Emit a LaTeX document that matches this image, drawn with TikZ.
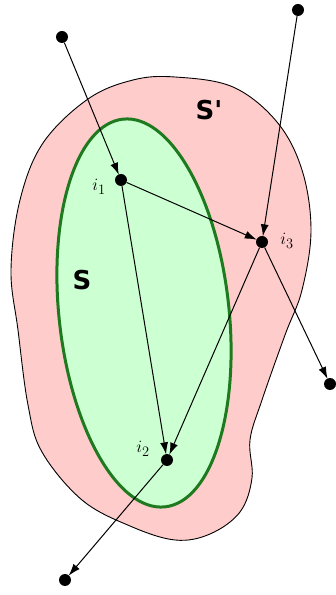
\documentclass[tikz,border=0pt]{standalone}
\usepackage{fontspec}
\newfontfamily\labfont{DejaVu Sans}
\usetikzlibrary{arrows.meta}
\definecolor{pinkfill}{HTML}{FFCCCC}
\definecolor{greenfill}{HTML}{CCFFD2}
\definecolor{greenline}{HTML}{1E7A1E}
\begin{document}
\begin{tikzpicture}[x=1pt,y=1pt,
  dot/.style={circle,fill=black,inner sep=0pt,minimum size=12pt},
  arr/.style={line width=1pt,-{Latex[length=12pt,width=8pt]},shorten >=-0.5pt},
  setlab/.style={font=\labfont\bfseries\fontsize{26}{30}\selectfont},
  ilab/.style={font=\fontsize{19}{22}\selectfont}]
\useasboundingbox (0,0) rectangle (336,595);
% outer set S'
\draw[fill=pinkfill,line width=0.9pt] plot[smooth cycle,tension=0.6] coordinates {
 (175,518) (233,508) (277,473) (302,425) (311,365) (302,305) (285,260) (262,195)
 (250,155) (252,117) (240,83) (210,61) (175,55) (130,69) (82,95) (42,143) (28,190)
 (18,265) (11,325) (20,395) (43,452) (88,496) (133,515)};
% inner set S
\draw[fill=greenfill,draw=greenline,line width=3pt,rotate around={6.2:(144,282)}]
  (144,282) ellipse [x radius=85,y radius=195];
% points
\node[dot] (tl) at (62,558) {};
\node[dot] (tr) at (298,585) {};
\node[dot] (i1) at (121,415) {};
\node[dot] (i3) at (262,353) {};
\node[dot] (i2) at (167,135) {};
\node[dot] (rd) at (330,211) {};
\node[dot] (bl) at (65,15) {};
% connectors
\draw[arr] (tl) -- (i1);
\draw[arr] (tr) -- (i3);
\draw[arr] (i1) -- (i3);
\draw[arr] (i1) -- (i2);
\draw[arr] (i3) -- (i2);
\draw[arr] (i3) -- (rd);
\draw[arr] (i2) -- (bl);
% labels
\node[setlab] (lSp) at (209,485) {S'};
\node[setlab] (lS) at (82,315) {S};
\node[ilab] (l1) at (99,408) {$i_1$};
\node[ilab] (l3) at (287,354) {$i_3$};
\node[ilab] (l2) at (143,146) {$i_2$};
\end{tikzpicture}
\end{document}
